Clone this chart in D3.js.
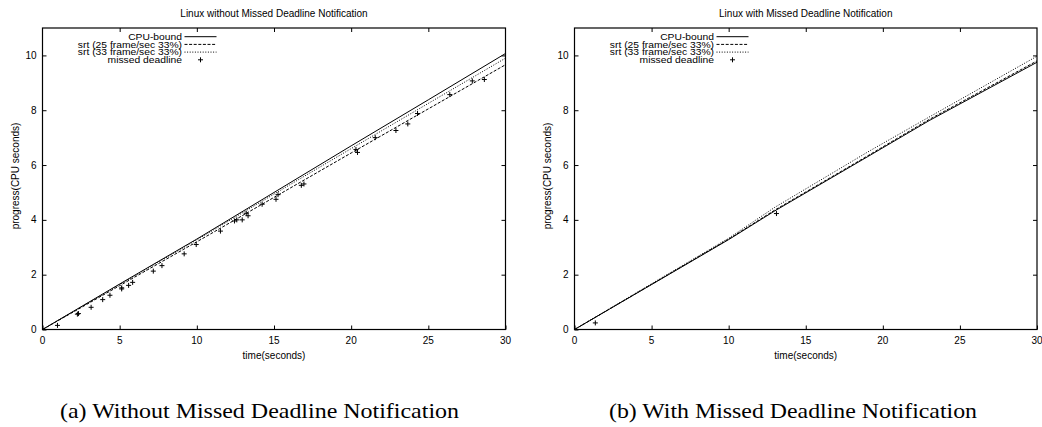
<!DOCTYPE html>
<html>
<head>
<meta charset="utf-8">
<script src="https://cdn.jsdelivr.net/npm/d3@7"></script>
<style>
  html, body { margin: 0; padding: 0; background: #fff; }
  svg { display: block; }
  text { font-family: "Liberation Sans", Arial, Helvetica, sans-serif; fill: #000; }
  .caption { font-family: "Liberation Serif", "Times New Roman", serif; }
</style>
</head>
<body>
<svg id="chart" width="1042" height="427"></svg>
<script>
// ---------- data ----------
const timeTicks = [0, 5, 10, 15, 20, 25, 30];
const progressTicks = [0, 2, 4, 6, 8, 10];
const legendLabels = ["CPU-bound", "srt (25 frame/sec 33%)", "srt (33 frame/sec 33%)", "missed deadline"];

const titles = ["Linux without Missed Deadline Notification", "Linux with Missed Deadline Notification"];
const captions = ["(a) Without Missed Deadline Notification", "(b) With Missed Deadline Notification"];
const xLabel = "time(seconds)";
const yLabel = "progress(CPU seconds)";

// left chart (without notification)
const leftTime      = [0, 5, 10, 15, 20, 25, 30];
const leftCpuBound  = [0, 1.66, 3.30, 5.00, 6.70, 8.38, 10.07];
const leftSrt25     = [0, 1.60, 3.20, 4.82, 6.44, 8.05, 9.66];
const leftSrt33     = [0, 1.64, 3.27, 4.94, 6.60, 8.25, 9.90];
const leftMissedX   = [0.97, 2.26, 2.33, 3.15, 3.90, 4.37, 5.13, 5.13, 5.58, 5.84, 7.18, 7.74, 9.18, 9.96,
                       11.53, 12.44, 12.59, 12.94, 13.20, 13.32, 14.23, 15.13, 15.26, 16.77, 16.94,
                       20.31, 20.41, 21.56, 22.90, 23.67, 24.30, 26.39, 27.85, 28.63];
const leftMissedY   = [0.15, 0.56, 0.58, 0.81, 1.09, 1.25, 1.48, 1.52, 1.61, 1.72, 2.13, 2.33, 2.76, 3.10,
                       3.59, 3.96, 4.00, 4.00, 4.24, 4.15, 4.57, 4.75, 4.92, 5.26, 5.31,
                       6.57, 6.46, 7.00, 7.26, 7.50, 7.88, 8.57, 9.07, 9.12];

// right chart (with notification)
const rightTime     = [0, 5, 10, 13, 19, 23, 30];
const rightCpuBound = [0, 1.64, 3.28, 4.33, 6.30, 7.62, 9.75];
const rightSrt25    = [0, 1.65, 3.30, 4.36, 6.33, 7.66, 9.80];
const rightSrt33    = [0, 1.67, 3.33, 4.46, 6.47, 7.75, 9.97];
const rightMissedX  = [1.35, 13.10];
const rightMissedY  = [0.24, 4.23];

// ---------- drawing ----------
const svg = d3.select("#chart");

const panels = [
  { left: 42.5, right: 505.5, time: leftTime, cpu: leftCpuBound, s25: leftSrt25, s33: leftSrt33,
    mx: leftMissedX, my: leftMissedY, title: titles[0], caption: captions[0], capX: 259.5, capW: 399 },
  { left: 574.5, right: 1037, time: rightTime, cpu: rightCpuBound, s25: rightSrt25, s33: rightSrt33,
    mx: rightMissedX, my: rightMissedY, title: titles[1], caption: captions[1], capX: 793, capW: 368 }
];
const plotTop = 28, plotBottom = 329.5;
const styles = [
  { dash: null },
  { dash: "3,1.6" },
  { dash: "1,1.6" }
];

panels.forEach(p => {
  const g = svg.append("g");
  const x = d3.scaleLinear().domain([0, 30]).range([p.left, p.right]);
  const y = d3.scaleLinear().domain([0, 11]).range([plotBottom, plotTop]);

  // ticks (gnuplot style: inward, mirrored)
  const tl = 4;
  const bx = d3.axisBottom(x).tickValues(timeTicks).tickSizeInner(-tl).tickSizeOuter(0).tickFormat("");
  const tx = d3.axisTop(x).tickValues(timeTicks.slice(1, -1)).tickSizeInner(-tl).tickSizeOuter(0).tickFormat("");
  const ly = d3.axisLeft(y).tickValues(progressTicks).tickSizeInner(-tl).tickSizeOuter(0).tickFormat("");
  const ry = d3.axisRight(y).tickValues(progressTicks.slice(1)).tickSizeInner(-tl).tickSizeOuter(0).tickFormat("");
  [[bx, `translate(0,${plotBottom})`], [tx, `translate(0,${plotTop})`], [ly, `translate(${p.left},0)`], [ry, `translate(${p.right},0)`]]
    .forEach(([ax, tr]) => {
      const a = g.append("g").attr("transform", tr).call(ax);
      a.select(".domain").remove();
      a.selectAll("line").attr("stroke", "#000").attr("stroke-width", 1);
    });

  // tick labels
  g.selectAll(".xl").data(timeTicks).join("text")
    .attr("x", d => x(d)).attr("y", 344).attr("text-anchor", "middle")
    .attr("font-size", 10).text(d => d);
  g.selectAll(".yl").data(progressTicks).join("text")
    .attr("x", p.left - 6).attr("y", d => y(d) + 3.6).attr("text-anchor", "end")
    .attr("font-size", 10).text(d => d);

  // border
  g.append("rect").attr("x", p.left).attr("y", plotTop)
    .attr("width", p.right - p.left).attr("height", plotBottom - plotTop)
    .attr("fill", "none").attr("stroke", "#000").attr("stroke-width", 1.2);

  // title & axis labels
  g.append("text").attr("x", (p.left + p.right) / 2).attr("y", 17).attr("text-anchor", "middle")
    .attr("font-size", 10).text(p.title);
  g.append("text").attr("x", (p.left + p.right) / 2).attr("y", 358.5).attr("text-anchor", "middle")
    .attr("font-size", 10).text(xLabel);
  g.append("text").attr("transform", `translate(${p.left - 23.5},176) rotate(-90)`)
    .attr("text-anchor", "middle").attr("font-size", 10).text(yLabel);

  // data lines
  const line = d3.line().x(d => x(d[0])).y(d => y(d[1]));
  [p.cpu, p.s25, p.s33].forEach((vals, i) => {
    g.append("path").datum(p.time.map((t, k) => [t, vals[k]]))
      .attr("d", line).attr("fill", "none").attr("stroke", "#000").attr("stroke-width", 1)
      .attr("stroke-dasharray", styles[i].dash);
  });

  // missed deadline points
  const ps = 2.5;
  const pts = p.mx.map((t, k) => [t, p.my[k]]);
  const pg = g.append("g").attr("stroke", "#000").attr("stroke-width", 1);
  pg.selectAll(".ph").data(pts).join("line")
    .attr("x1", d => x(d[0]) - ps).attr("x2", d => x(d[0]) + ps)
    .attr("y1", d => y(d[1])).attr("y2", d => y(d[1]));
  pg.selectAll(".pv").data(pts).join("line")
    .attr("x1", d => x(d[0])).attr("x2", d => x(d[0]))
    .attr("y1", d => y(d[1]) - ps).attr("y2", d => y(d[1]) + ps);

  // legend (glyphs slightly squat, as in the reference)
  const lx = p.left + 139.5;
  const rowY = [36.7, 44.4, 52.1, 59.8];
  legendLabels.forEach((lab, i) => {
    const t = g.append("text").attr("x", lx).attr("y", rowY[i] + 3.2).attr("text-anchor", "end")
      .attr("font-size", 8.8).text(lab);
    const w = t.node().getComputedTextLength();
    t.attr("textLength", w * 10.3 / 8.8).attr("lengthAdjust", "spacingAndGlyphs");
    if (i < 3) {
      g.append("line").attr("x1", lx + 2.5).attr("x2", lx + 34.5)
        .attr("y1", rowY[i]).attr("y2", rowY[i])
        .attr("stroke", "#000").attr("stroke-width", 1).attr("stroke-dasharray", styles[i].dash);
    } else {
      const cx = lx + 18.5;
      g.append("line").attr("x1", cx - ps).attr("x2", cx + ps).attr("y1", rowY[i]).attr("y2", rowY[i]).attr("stroke", "#000");
      g.append("line").attr("x1", cx).attr("x2", cx).attr("y1", rowY[i] - ps).attr("y2", rowY[i] + ps).attr("stroke", "#000");
    }
  });

  // caption
  svg.append("text").attr("class", "caption").attr("x", p.capX).attr("y", 418)
    .attr("text-anchor", "middle").attr("font-size", 21)
    .attr("textLength", p.capW).attr("lengthAdjust", "spacingAndGlyphs").text(p.caption);
});
</script>
</body>
</html>
